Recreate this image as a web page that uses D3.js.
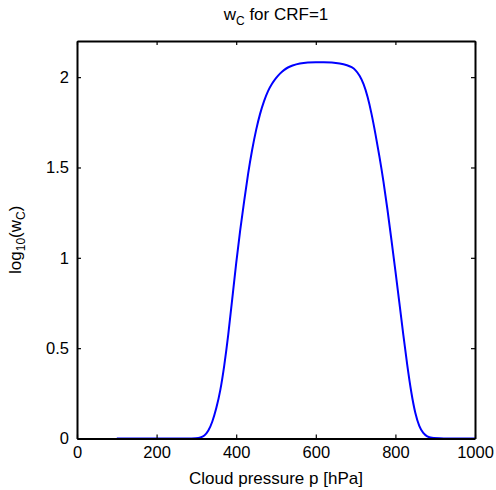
<!DOCTYPE html>
<html>
<head>
<meta charset="utf-8">
<script src="https://cdn.jsdelivr.net/npm/d3@7"></script>
<style>
  body { margin: 0; background: #fff; }
  text { font-family: "Liberation Sans", Arial, sans-serif; }
</style>
</head>
<body>
<svg width="496" height="490"></svg>
<script>

// cloud pressure [hPa] and log10(w_C)
const pressure = [100, 200, 280, 300, 310, 320, 330, 340, 350, 360, 370, 380, 390, 400,
                  410, 420, 430, 440, 450, 460, 470, 480, 490, 500, 510, 520, 530, 540,
                  560, 580, 600, 620, 640, 660, 680, 690, 700, 710, 720, 730, 740, 750,
                  760, 770, 780, 790, 800, 810, 820, 830, 840, 850, 860, 870, 880, 890,
                  910, 1000];
const logW = [0, 0, 0, 0.001, 0.004, 0.014, 0.04, 0.09, 0.165, 0.26, 0.40, 0.57, 0.77, 0.975,
              1.155, 1.315, 1.47, 1.60, 1.71, 1.80, 1.87, 1.925, 1.965, 1.995, 2.02, 2.04, 2.054, 2.064,
              2.077, 2.082, 2.083, 2.083, 2.082, 2.077, 2.066, 2.056, 2.04, 2.01, 1.965, 1.895, 1.80, 1.685,
              1.56, 1.425, 1.27, 1.10, 0.93, 0.75, 0.57, 0.40, 0.25, 0.135, 0.065, 0.028, 0.01, 0.003,
              0, 0];

const xTicks = [0, 200, 400, 600, 800, 1000];
const yTicks = [0, 0.5, 1, 1.5, 2];

function drawChart() {
    const svg = d3.select("svg");
    const left = 77, right = 475, top = 41, bottom = 438.5;

    const scX = d3.scaleLinear().domain([0, 1000]).range([left, right]);
    const scY = d3.scaleLinear().domain([0, 2.2]).range([bottom, top]);

    const data = pressure.map((p, i) => ({ p: p, v: logW[i] }));

    // the curve
    svg.append("path")
       .datum(data)
       .attr("fill", "none")
       .attr("stroke", "#0000ff")
       .attr("stroke-width", 2)
       .attr("d", d3.line().x(d => scX(d.p)).y(d => scY(d.v)).curve(d3.curveBasis));

    // box axes with inward ticks
    const fmt = d => d3.format("")(d);
    const axes = [
        [d3.axisBottom(scX).tickValues(xTicks).tickFormat(fmt), `translate(0,${bottom})`],
        [d3.axisTop(scX).tickValues(xTicks).tickFormat(""), `translate(0,${top})`],
        [d3.axisLeft(scY).tickValues(yTicks).tickFormat(fmt), `translate(${left},0)`],
        [d3.axisRight(scY).tickValues(yTicks).tickFormat(""), `translate(${right},0)`]
    ];
    axes.forEach(([ax, tr]) => {
        const g = svg.append("g").attr("transform", tr)
           .call(ax.tickSizeInner(-4).tickSizeOuter(0).tickPadding(8));
        g.select(".domain").attr("stroke", "black").attr("stroke-width", 2);
        g.selectAll(".tick line").attr("stroke", "black").attr("stroke-width", 1.2);
        g.selectAll(".tick text").attr("fill", "black")
         .attr("font-family", "Liberation Sans, Arial, sans-serif").attr("font-size", 16.5);
    });

    // title
    const title = svg.append("text")
       .attr("x", (left + right) / 2).attr("y", 20)
       .attr("text-anchor", "middle").attr("font-size", 17);
    title.append("tspan").text("w");
    title.append("tspan").attr("dy", 5).attr("font-size", 12).text("C");
    title.append("tspan").attr("dy", -5).text(" for CRF=1");

    // x label
    svg.append("text")
       .attr("x", (left + right) / 2).attr("y", 484)
       .attr("text-anchor", "middle").attr("font-size", 17)
       .text("Cloud pressure p [hPa]");

    // y label
    const yl = svg.append("text")
       .attr("transform", `translate(21,${(top + bottom) / 2}) rotate(-90)`)
       .attr("text-anchor", "middle").attr("font-size", 17);
    yl.append("tspan").text("log");
    yl.append("tspan").attr("dy", 4).attr("font-size", 12).text("10");
    yl.append("tspan").attr("dy", -4).text("(w");
    yl.append("tspan").attr("dy", 4).attr("font-size", 12).text("C");
    yl.append("tspan").attr("dy", -4).text(")");
}

drawChart();
</script>
</body>
</html>
